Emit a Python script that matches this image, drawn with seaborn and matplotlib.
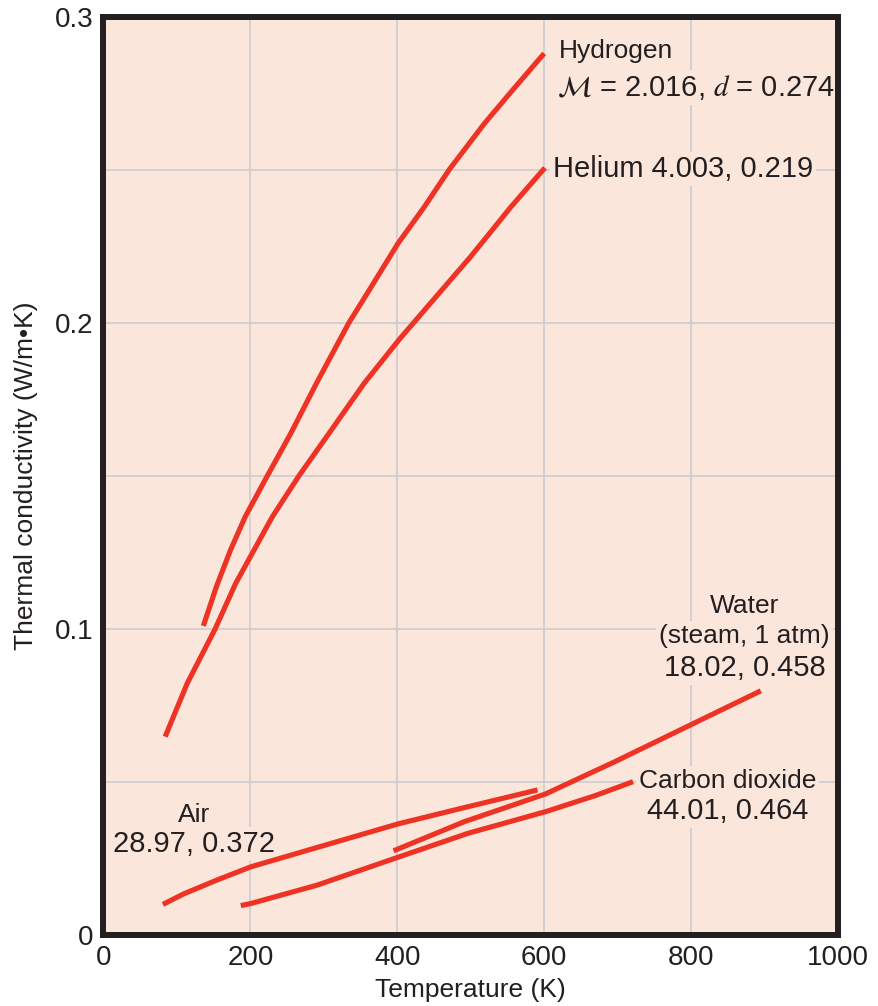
import matplotlib
matplotlib.use('Agg')
import matplotlib.pyplot as plt
import matplotlib.ticker as mticker
import seaborn as sns
import pandas as pd

# values (temperature in K, conductivity in W/m.K)
hydrogen_T = [136, 154, 173, 193, 223, 255, 290, 334, 362, 401, 437, 471, 519, 557, 600]
hydrogen_k = [0.101, 0.114, 0.1258, 0.1367, 0.150, 0.1639, 0.1803, 0.200, 0.2108,
              0.226, 0.238, 0.2502, 0.2653, 0.2761, 0.2881]

helium_T = [84, 114, 152, 180, 205, 230, 266, 307, 355, 403, 441, 500, 555, 601]
helium_k = [0.0648, 0.0822, 0.100, 0.1149, 0.1258, 0.1367, 0.150, 0.1639, 0.1803,
            0.1947, 0.2053, 0.2217, 0.238, 0.2507]

air_T = [81, 109, 155, 201, 291, 401, 496, 591]
air_k = [0.0100, 0.0134, 0.0180, 0.0223, 0.0286, 0.0363, 0.0419, 0.0474]

co2_T = [187, 201, 291, 401, 496, 602, 669, 721]
co2_k = [0.0096, 0.0103, 0.0163, 0.0254, 0.0332, 0.0403, 0.0455, 0.0501]

water_T = [395, 491, 602, 696, 804, 895]
water_k = [0.0275, 0.037, 0.0461, 0.0566, 0.0692, 0.0798]

x_ticks = [0, 200, 400, 600, 800, 1000]
y_ticks = [0, 0.1, 0.2, 0.3]
y_tick_labels = ["0", "0.1", "0.2", "0.3"]

label_texts = [
    "Hydrogen",
    r"$\mathcal{M}$ = 2.016, $d$ = 0.274",
    "Helium 4.003, 0.219",
    "Water",
    "(steam, 1 atm)",
    "18.02, 0.458",
    "Carbon dioxide",
    "44.01, 0.464",
    "Air",
    "28.97, 0.372",
]

BG = "#FBE6DC"
RED = "#EE3224"
INK = "#231F20"

# where each label sits: T, k (baseline), alignment, font size
label_layout = [
    (620, 0.2866, "left", 19),
    (618, 0.2742, "left", 21),
    (612, 0.2477, "left", 21),
    (873, 0.1052, "center", 19),
    (873, 0.0954, "center", 19),
    (873, 0.0846, "center", 21),
    (850, 0.0480, "center", 19),
    (850, 0.0379, "center", 21),
    (123, 0.0369, "center", 19),
    (123, 0.0271, "center", 21),
]

sns.set_theme(style="white")
plt.rcParams['font.family'] = ['Liberation Sans', 'DejaVu Sans']
plt.rcParams['mathtext.fontset'] = 'stix'

fig = plt.figure(figsize=(8.79, 10.06), dpi=100)
ax = fig.add_axes([0.1177, 0.0706, 0.8356, 0.9125])
ax.set_facecolor(BG)

curves = [
    ("Hydrogen", hydrogen_T, hydrogen_k),
    ("Helium", helium_T, helium_k),
    ("Air", air_T, air_k),
    ("Carbon dioxide", co2_T, co2_k),
    ("Water", water_T, water_k),
]
for name, T, k in curves:
    df = pd.DataFrame({"T": T, "k": k})
    sns.lineplot(data=df, x="T", y="k", ax=ax, color=RED, lw=3.7,
                 sort=False, solid_capstyle='butt', solid_joinstyle='round', zorder=3)

for text, (tx, ty, ha, fs) in zip(label_texts, label_layout):
    ax.text(tx, ty, text, ha=ha, va="baseline", fontsize=fs, color=INK, zorder=2.5,
            bbox=dict(fc=BG, ec="none", pad=2))

ax.set_xlim(0, 1000)
ax.set_ylim(0, 0.3)
ax.set_xticks(x_ticks)
ax.set_xticklabels([str(t) for t in x_ticks])
ax.set_yticks(y_ticks)
ax.set_yticklabels(y_tick_labels)
ax.yaxis.set_minor_locator(mticker.MultipleLocator(0.05))
ax.tick_params(which="both", length=0, labelsize=20, colors=INK, pad=7.5)

ax.grid(True, which="both", color="#C9C9CE", lw=1.1)
ax.set_axisbelow(True)

for sp in ax.spines.values():
    sp.set_visible(True)
    sp.set_color(INK)
    sp.set_linewidth(4.3)

ax.set_xlabel("Temperature (K)", fontsize=19, color=INK, labelpad=5)
ax.set_ylabel("Thermal conductivity (W/m\u2022K)", fontsize=19, color=INK, labelpad=12)

fig.savefig("out.png", dpi=100, facecolor="white")
plt.close(fig)
